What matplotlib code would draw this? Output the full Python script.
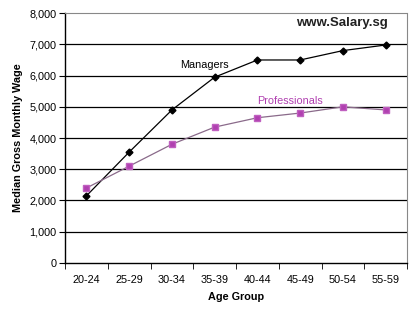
import numpy as np
import matplotlib.pyplot as plt

age_groups = ['20-24', '25-29', '30-34', '35-39', '40-44', '45-49', '50-54', '55-59']
managers = [2150, 3550, 4900, 5950, 6500, 6500, 6800, 6980]
professionals = [2400, 3100, 3800, 4350, 4650, 4800, 5000, 4900]

fig = plt.figure(figsize=(4.2, 3.13), dpi=100)
ax = fig.add_axes([0.155, 0.16, 0.814, 0.798])

x = np.arange(len(age_groups))
ax.plot(x, managers, color='black', lw=0.9, marker='D', ms=3.5, zorder=3)
ax.plot(x, professionals, color='#8a6a8a', lw=0.9, marker='s', ms=4.5,
        markerfacecolor='#b040b0', markeredgecolor='#c060c0', zorder=3)

ax.set_xlim(-0.5, 7.5)
ax.set_ylim(0, 8000)
ax.set_yticks(range(0, 8001, 1000))
ax.set_yticklabels([f'{v:,}' for v in range(0, 8001, 1000)], fontsize=7.8,
                   family='Liberation Sans')
ax.set_xticks(x)
ax.set_xticklabels(age_groups, fontsize=7.8, family='Liberation Sans')
ax.set_xticks(np.arange(-0.5, 8, 1), minor=True)
ax.tick_params(axis='x', which='major', length=0, pad=9)
ax.tick_params(axis='x', which='minor', length=4, direction='out')
ax.tick_params(axis='y', length=4, direction='out', pad=2)

for v in range(1000, 8000, 1000):
    ax.axhline(v, color='black', lw=0.9, zorder=1)

ax.spines['left'].set_linewidth(1.0)
ax.spines['bottom'].set_linewidth(1.0)
for s in ['top', 'right']:
    ax.spines[s].set_linestyle((0, (1, 1)))
    ax.spines[s].set_color('#888888')
    ax.spines[s].set_linewidth(0.8)

ax.set_xlabel('Age Group', fontsize=7.8, fontweight='bold', family='Liberation Sans', labelpad=5)
ax.set_ylabel('Median Gross Monthly Wage', fontsize=7.8, fontweight='bold',
              family='Liberation Sans', labelpad=5)

ax.text(2.2, 6250, 'Managers', fontsize=7.8, family='Liberation Sans', color='black')
ax.text(4.0, 5100, 'Professionals', fontsize=7.8, family='Liberation Sans', color='#b040b0')
ax.text(7.05, 7700, 'www.Salary.sg', fontsize=9.5, fontweight='bold', family='Liberation Sans',
        ha='right', va='center', color='#222222')

fig.savefig('out.png', dpi=100)
